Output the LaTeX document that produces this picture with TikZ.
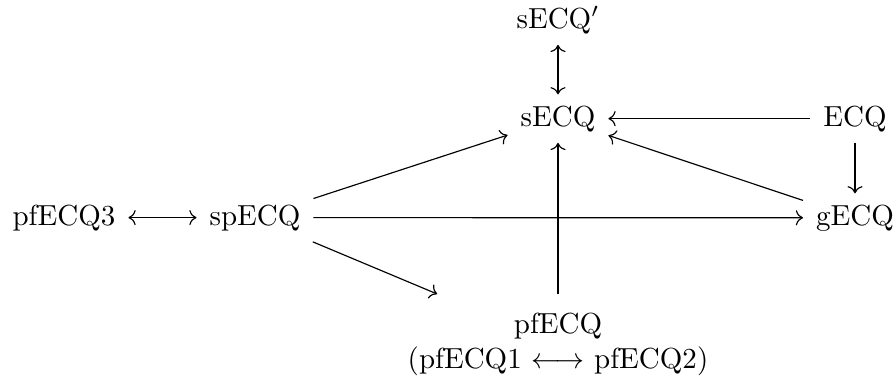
\documentclass[tikz,border=0pt]{standalone}
\usetikzlibrary{arrows.meta}
\begin{document}
\begin{tikzpicture}[x=0.3448pt,y=-0.3448pt,
  cell/.style={inner xsep=1ex,inner ysep=0.85ex,anchor=base},
  arr/.style={-{Computer Modern Rightarrow},line width=0.4pt},
  darr/.style={{Computer Modern Rightarrow}-{Computer Modern Rightarrow},line width=0.4pt}]
\useasboundingbox (0,0) rectangle (896,377);
\node[cell] (sECQp) at (558,28) {sECQ$'$};
\node[cell] (sECQ) at (558,126) {sECQ};
\node[cell] (ECQ) at (855,126) {ECQ};
\node[cell] (pfECQ3) at (64,225) {pfECQ3};
\node[cell] (spECQ) at (255,225) {spECQ};
\node[cell] (gECQ) at (855,225) {gECQ};
\node[inner xsep=1ex,inner ysep=6.5pt,align=center,anchor=north] (pfECQ) at (558,294)
  {pfECQ\\(pfECQ1 $\longleftrightarrow$ pfECQ2)};
\draw[darr] (sECQp) -- (sECQ);
\draw[arr] (ECQ) -- (sECQ);
\draw[arr] (ECQ) -- (gECQ);
\draw[arr] (gECQ) -- (sECQ);
\draw[darr] (pfECQ3) -- (spECQ);
\draw[arr] (spECQ) -- (sECQ);
\draw[arr] (spECQ) -- (gECQ);
\draw[arr] (spECQ) -- (pfECQ);
\draw[arr] (pfECQ.north) -- (sECQ);
\end{tikzpicture}
\end{document}
